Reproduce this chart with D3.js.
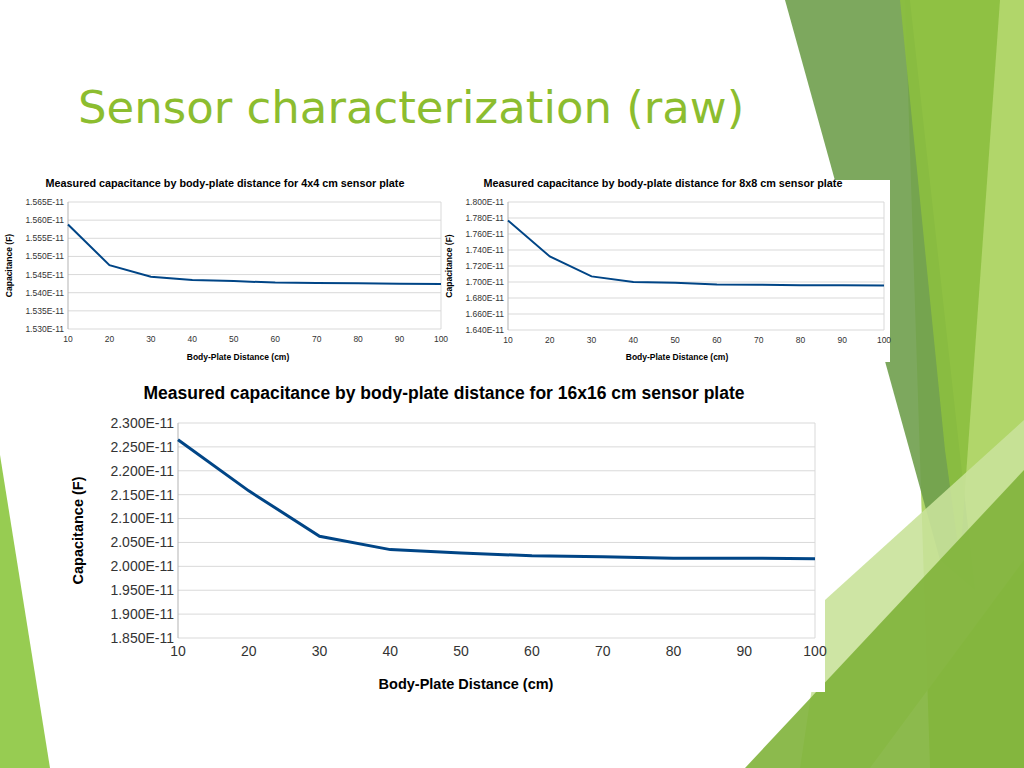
<!DOCTYPE html><html><head><meta charset="utf-8">
<script src="https://cdn.jsdelivr.net/npm/d3@7"></script>
<style>body{margin:0;background:#fff}svg{display:block;font-family:"Liberation Sans",Arial,sans-serif}</style></head><body>
<svg id="s" width="1024" height="768"></svg>
<script>
const distances=[10,20,30,40,50,60,70,80,90,100];
const cap4=[15.588,15.476,15.444,15.435,15.432,15.428,15.427,15.426,15.425,15.424];
const cap8=[17.77,17.32,17.07,17.00,16.99,16.97,16.965,16.96,16.96,16.955];
const cap16=[22.65,21.58,20.63,20.35,20.28,20.22,20.20,20.17,20.17,20.16];
const ticks4=[15.30,15.35,15.40,15.45,15.50,15.55,15.60,15.65];
const ticks8=[16.40,16.60,16.80,17.00,17.20,17.40,17.60,17.80,18.00];
const ticks16=[18.5,19.0,19.5,20.0,20.5,21.0,21.5,22.0,22.5,23.0];
const svg=d3.select("#s");
const deco=[
 {c:"#a9d15a",p:[[905,0],[1024,0],[1024,768],[930,768]]},
 {c:"#6f9e4d",p:[[785,0],[910,0],[975,590],[940,560]]},
 {c:"#8cbf3f",p:[[900,0],[1000,0],[960,560],[945,450]]},
 {c:"#c9e29a",p:[[825,600],[1024,420],[1024,560],[870,768],[800,768]]},
 {c:"#7fb23a",p:[[745,768],[1024,470],[1024,768]]},
 {c:"#8cc63f",p:[[0,455],[50,768],[0,768]]}
];
svg.selectAll("polygon").data(deco).join("polygon").attr("points",d=>d.p.join(" ")).attr("fill",d=>d.c).attr("opacity",0.9);
svg.append("text").attr("x",78).attr("y",123).attr("font-size",45).attr("fill","#8cbd2f").attr("font-family","DejaVu Sans").text("Sensor characterization (raw)");
function chart(o){
 svg.append("rect").attr("x",o.bx).attr("y",o.by).attr("width",o.bw).attr("height",o.bh).attr("fill","#fff");
 const x=d3.scaleLinear().domain([10,100]).range([o.x0,o.x1]);
 const y=d3.scaleLinear().domain([o.t[0],o.t[o.t.length-1]]).range([o.y1,o.y0]);
 const g=svg.append("g");
 g.selectAll(".gl").data(o.t).join("line").attr("x1",o.x0).attr("x2",o.x1).attr("y1",d=>y(d)).attr("y2",d=>y(d)).attr("stroke","#d9d9d9");
 g.append("line").attr("x1",o.x1).attr("x2",o.x1).attr("y1",o.y0).attr("y2",o.y1).attr("stroke","#d9d9d9");
 g.append("line").attr("x1",o.x0).attr("x2",o.x0).attr("y1",o.y0).attr("y2",o.y1).attr("stroke","#b3b3b3");
 g.selectAll(".yl").data(o.t).join("text").attr("x",o.x0-4).attr("y",d=>y(d)).attr("dy","0.35em").attr("text-anchor","end").attr("font-size",o.fs).attr("fill","#333").text(d=>(d/10).toFixed(3)+"E-11");
 g.selectAll(".xl").data(distances).join("text").attr("x",d=>x(d)).attr("y",o.y1+o.fs+4).attr("text-anchor","middle").attr("font-size",o.fs).attr("fill","#333").text(d=>d);
 g.append("path").datum(o.v).attr("fill","none").attr("stroke","#004586").attr("stroke-width",o.sw)
  .attr("d",d3.line().x((d,i)=>x(distances[i])).y(d=>y(d)));
 g.append("text").attr("x",o.tx).attr("y",o.ty).attr("text-anchor","middle").attr("font-size",o.tfs).attr("font-weight","bold").text(o.title);
 g.append("text").attr("x",o.xlx).attr("y",o.xly).attr("text-anchor","middle").attr("font-size",o.lfs).attr("font-weight","bold").text("Body-Plate Distance (cm)");
 g.append("text").attr("transform",`translate(${o.ylx},${(o.y0+o.y1)/2}) rotate(-90)`).attr("text-anchor","middle").attr("font-size",o.lfs).attr("font-weight","bold").text("Capacitance (F)");
}
chart({bx:0,by:175,bw:450,bh:190,x0:68,x1:441,y0:202,y1:329,t:ticks4,v:cap4,fs:8.5,sw:2,tx:225,ty:187,tfs:10.8,title:"Measured capacitance by body-plate distance for 4x4 cm sensor plate",xlx:238,xly:360,lfs:8.5,ylx:12});
chart({bx:457,by:180,bw:433,bh:182,x0:508,x1:884,y0:202,y1:330,t:ticks8,v:cap8,fs:8.5,sw:2,tx:663,ty:187,tfs:10.8,title:"Measured capacitance by body-plate distance for 8x8 cm sensor plate",xlx:677,xly:360,lfs:8.5,ylx:452});
chart({bx:60,by:378,bw:765,bh:314,x0:178,x1:815,y0:423,y1:638,t:ticks16,v:cap16,fs:14,sw:3,tx:444,ty:399,tfs:17.5,title:"Measured capacitance by body-plate distance for 16x16 cm sensor plate",xlx:466,xly:689,lfs:14.5,ylx:83});
</script></body></html>
